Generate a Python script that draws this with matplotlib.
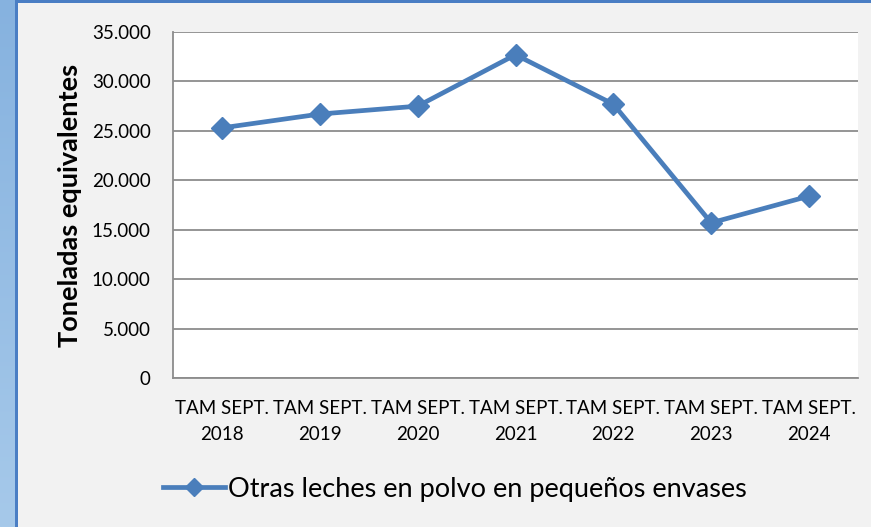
import matplotlib
matplotlib.use("Agg")
import matplotlib.pyplot as plt
import numpy as np
from matplotlib.lines import Line2D
from matplotlib.patches import Rectangle
from matplotlib.colors import LinearSegmentedColormap

categories = ["TAM SEPT.\n2018", "TAM SEPT.\n2019", "TAM SEPT.\n2020", "TAM SEPT.\n2021",
              "TAM SEPT.\n2022", "TAM SEPT.\n2023", "TAM SEPT.\n2024"]
values = [25300, 26700, 27500, 32700, 27700, 15700, 18400]
yticks = [0, 5000, 10000, 15000, 20000, 25000, 30000, 35000]
ytick_labels = ["0", "5.000", "10.000", "15.000", "20.000", "25.000", "30.000", "35.000"]
series_name = "Otras leches en polvo en pequeños envases"

plt.rcParams['font.family'] = ['Lato', 'DejaVu Sans']

W, H = 871, 527
fig = plt.figure(figsize=(W / 100, H / 100), dpi=100)
fig.patch.set_facecolor("#f2f2f2")

# Left gradient strip
grad = np.linspace(0, 1, 256).reshape(-1, 1)
bg = fig.add_axes([0, 0, 15 / W, 1])
cmap = LinearSegmentedColormap.from_list("b", ["#86b2df", "#a6c9ea"])
bg.imshow(grad, aspect="auto", cmap=cmap, extent=[0, 1, 0, 1], origin="upper")
bg.axis("off")
fig.add_artist(Rectangle((15 / W, 0), 2.5 / W, 1, transform=fig.transFigure,
                         facecolor="#4a7ec4", edgecolor="none"))
fig.add_artist(Rectangle((15 / W, 1 - 3 / H), 1, 3 / H, transform=fig.transFigure,
                         facecolor="#4a7ec4", edgecolor="none"))

left, right, top, bottom = 173, 858, 32, 378
ax = fig.add_axes([left / W, 1 - bottom / H, (right - left) / W, (bottom - top) / H])
ax.set_facecolor("white")
x = np.arange(len(values)) + 0.5
ax.plot(x, values, color="#4a7ebb", lw=3.4, marker="D", markersize=11,
        markeredgecolor="#4a7ebb", markerfacecolor="#4a7ebb", zorder=3,
        solid_joinstyle="round")
ax.set_xlim(0, len(values))
ax.set_ylim(0, 35000)
ax.set_yticks(yticks)
ax.set_yticklabels(ytick_labels, fontsize=13.5)
ax.set_xticks(x)
ax.set_xticklabels(categories, fontsize=13.5, linespacing=1.6)
ax.tick_params(axis="both", length=0, colors="black")
ax.tick_params(axis="y", pad=16)
ax.tick_params(axis="x", pad=16)
ax.grid(axis="y", color="#8c8c8c", lw=1.3)
ax.set_axisbelow(True)
for s in ["top", "right"]:
    ax.spines[s].set_visible(False)
for s in ["left", "bottom"]:
    ax.spines[s].set_color("#8c8c8c")
    ax.spines[s].set_linewidth(1.3)
ax.set_ylabel("Toneladas equivalentes", fontsize=19.5, fontweight="bold", labelpad=7)

handle = Line2D([], [], color="#4a7ebb", lw=3.4, marker="D", markersize=9,
                markerfacecolor="#4a7ebb", markeredgecolor="#4a7ebb")
fig.legend([handle], [series_name], loc="center", bbox_to_anchor=(455 / W, 1 - 489 / H),
           frameon=False, fontsize=19.5, handlelength=2.3, handletextpad=0.1)

fig.savefig("out.png", dpi=100, facecolor=fig.get_facecolor())
